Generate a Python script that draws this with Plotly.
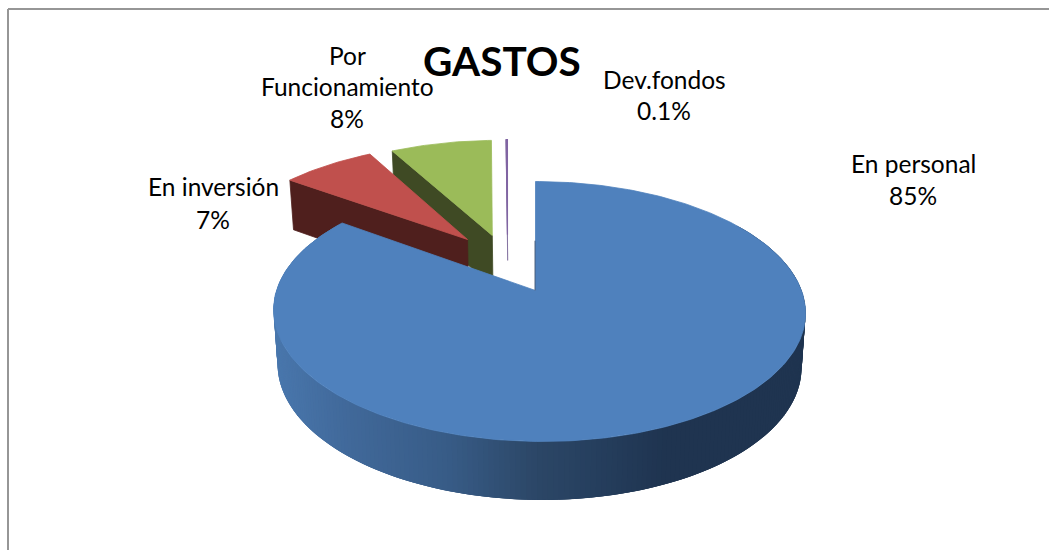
import numpy as np
import plotly.graph_objects as go

# ---- data ----
categories = ["En personal", "En inversión", "Por Funcionamiento", "Dev.fondos"]
values = [85, 7, 8, 0.1]
value_labels = ["85%", "7%", "8%", "0.1%"]
title_text = "GASTOS"

# ---- styling ----
top_colors = ["#4F81BD", "#C0504D", "#9BBB59", "#8064A2"]
wall_colors = ["#2A4060", "#4F1F1D", "#3F4A24", "#6F5A90"]
explode_u = [0.0, -0.277, -0.177, -0.115]
explode_v = [0.0, 0.431, 0.467, 0.475]
end_trim_deg = [0.0, 0.0, 1.4, 0.0]
rotate_deg = [0.0, 0.0, 0.0, -1.0]
wall_depth = [1.0, 1.0, 1.0, 0.5]

# perspective of the tilted disc, in page pixels
X0, Y0 = 535.5, 290.5
A, B, K = 262.5, 126.6, 0.1615
DEPTH, BOTTOM_SCALE = 53.5, 0.985
RIM_SHIFT = 3.5

fractions = np.array(values) / sum(values)
starts = np.concatenate([[0], np.cumsum(fractions)[:-1]]) * 2 * np.pi + np.radians(rotate_deg)
ends = np.cumsum(fractions) * 2 * np.pi - np.radians(end_trim_deg) + np.radians(rotate_deg)


def project(u, v, z=0.0, shift=0.0):
    u, v = np.asarray(u, float), np.asarray(v, float)
    d = 1 + K * v
    scale = 1 - (1 - BOTTOM_SCALE) * z
    x = X0 + A * u / d * scale + shift * (1 - v)
    y = Y0 - B * v / d + z * DEPTH / np.sqrt(d)
    return x, y


def poly(xs, ys, color, line=0.6):
    return go.Scatter(x=list(xs), y=list(ys), mode="lines", fill="toself",
                      fillcolor=color, line=dict(color=color, width=line),
                      hoverinfo="skip", showlegend=False)


def hex_to_rgb(h):
    return np.array([int(h[i:i + 2], 16) for i in (1, 3, 5)], float)


grad_x = [270, 350, 450, 540, 600, 670, 810]
grad_c = ["#4A78AE", "#41699A", "#385C87", "#2C4767", "#263F5E", "#1F3450", "#1F3450"]
grad_rgb = np.array([hex_to_rgb(c) for c in grad_c])


def side_color(x):
    rgb = [np.interp(x, grad_x, grad_rgb[:, i]) for i in range(3)]
    return "rgb(%d,%d,%d)" % tuple(rgb)


def slice_top(i, shift=0.0):
    t = np.linspace(starts[i], ends[i], max(3, int((ends[i] - starts[i]) * 60)))
    uo, vo = explode_u[i], explode_v[i]
    xr, yr = project(uo + np.sin(t), vo + np.cos(t), 0.0, shift)
    xa, ya = project([uo], [vo])
    return np.concatenate([xa, xr, xa]), np.concatenate([ya, yr, ya])


def start_wall(i):
    uo, vo = explode_u[i], explode_v[i]
    tu, tv = uo + np.sin(starts[i]), vo + np.cos(starts[i])
    xt, yt = project([uo, tu], [vo, tv])
    xb, yb = project([tu, uo], [tv, vo], wall_depth[i])
    return list(xt) + list(xb) + [xt[0]], list(yt) + list(yb) + [yt[0]]


fig = go.Figure()

# back slices, furthest first
order = [3, 2, 1]
for i in order:
    wx, wy = start_wall(i)
    fig.add_trace(poly(wx, wy, wall_colors[i], 0.8 if i != 3 else 0.6))
    tx, ty = slice_top(i)
    fig.add_trace(poly(tx, ty, top_colors[i], 0.8 if i != 3 else 1.2))

# big slice: rim wall as shaded strips, each overlapping the next to hide seams
edges = np.radians(np.arange(56, 306, 1.0))
for a, b in zip(edges[:-3], edges[3:]):
    t = np.array([a, b])
    u, v = np.sin(t), np.cos(t)
    xt, yt = project(u, v, 0.0, RIM_SHIFT)
    xb, yb = project(u[::-1], v[::-1], 1.0, RIM_SHIFT)
    fig.add_trace(poly(list(xt) + list(xb) + [xt[0]],
                       list(yt) + list(yb) + [yt[0]],
                       side_color(xt[0]), 0))

tx, ty = slice_top(0, RIM_SHIFT)
fig.add_trace(poly(tx, ty, top_colors[0], 0.8))
ex, ey = project([0, 0], [0.42, 0.0])
fig.add_trace(go.Scatter(x=list(ex - 0.5), y=list(ey), mode="lines",
                         line=dict(color=wall_colors[0], width=0.8),
                         hoverinfo="skip", showlegend=False))

# chart-area border (left and top sides only reach the page)
fig.add_shape(type="line", x0=8, x1=8, y0=550, y1=9,
              line=dict(color="#969696", width=2))
fig.add_shape(type="line", x0=8, x1=1049, y0=9, y1=9,
              line=dict(color="#969696", width=2))

FONT = "Lato, Carlito, Calibri, sans-serif"
LABEL_SIZE = 24.5


def label(x, y, text, size=LABEL_SIZE, bold=False):
    fig.add_annotation(x=x, y=y, text=f"<b>{text}</b>" if bold else text,
                       showarrow=False, xanchor="center", yanchor="middle",
                       font=dict(family=FONT, size=size, color="#000000"))


por, func = categories[2].split(" ")
label(913, 163, categories[0]); label(913, 195, value_labels[0])
label(213, 186, categories[1]); label(213, 219, value_labels[1])
label(347, 55, por); label(347, 86, func); label(347, 118, value_labels[2])
label(664, 79, categories[3]); label(664, 110, value_labels[3])
label(502, 60, title_text, size=40.5, bold=True)

fig.update_layout(
    width=1049, height=550, margin=dict(l=0, r=0, t=0, b=0),
    paper_bgcolor="#FFFFFF", plot_bgcolor="#FFFFFF", showlegend=False,
    xaxis=dict(range=[0, 1049], visible=False, fixedrange=True),
    yaxis=dict(range=[550, 0], visible=False, fixedrange=True),
)
fig.write_html("out.html", post_script="document.body.style.margin='0';document.body.style.overflow='hidden';",
               config={"displayModeBar": False})
